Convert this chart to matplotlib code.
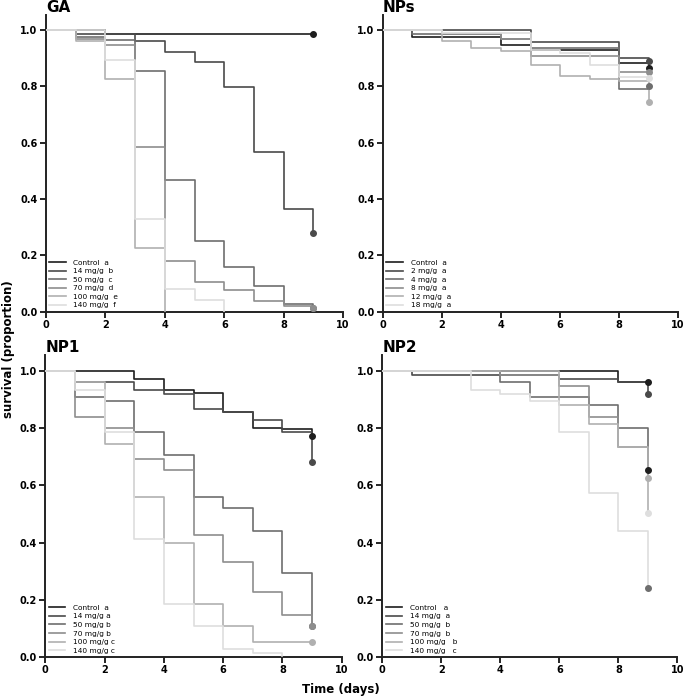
import numpy as np
import matplotlib
matplotlib.use("Agg")
import matplotlib.pyplot as plt

# survival level on each day interval [0,1), [1,2), ..., [8,9); last value = end point at day 9
days = np.arange(0, 10)
gray_shades = ["#1e1e1e", "#4a4a4a", "#6e6e6e", "#8e8e8e", "#b0b0b0", "#dedede"]

ga_labels = ["Control  a", "14 mg/g  b", "50 mg/g  c", "70 mg/g  d", "100 mg/g  e", "140 mg/g  f"]
ga_control = [1, 1, 0.986, 0.986, 0.986, 0.986, 0.986, 0.986, 0.986, 0.986]
ga_14 = [1, 0.985, 0.985, 0.962, 0.923, 0.886, 0.797, 0.569, 0.366, 0.28]
ga_50 = [1, 0.975, 0.965, 0.854, 0.467, 0.253, 0.16, 0.092, 0.026, 0.015]
ga_70 = [1, 0.97, 0.948, 0.585, 0.18, 0.104, 0.078, 0.038, 0.02, 0.015]
ga_100 = [1, 0.96, 0.826, 0.228, 0, None, None, None, None, None]
ga_140 = [1, 1, 0.895, 0.33, 0.08, 0.04, 0, None, None, None]

nps_labels = ["Control  a", "2 mg/g  a", "4 mg/g  a", "8 mg/g  a", "12 mg/g  a", "18 mg/g  a"]
nps_control = [1, 0.974, 0.974, 0.974, 0.947, 0.93, 0.93, 0.93, 0.883, 0.865]
nps_2 = [1, 1, 1, 1, 1, 0.959, 0.959, 0.959, 0.90, 0.889]
nps_4 = [1, 0.986, 0.986, 0.986, 0.97, 0.935, 0.935, 0.935, 0.79, 0.80]
nps_8 = [1, 1, 0.986, 0.986, 0.97, 0.91, 0.91, 0.91, 0.85, 0.85]
nps_12 = [1, 1, 0.96, 0.935, 0.925, 0.875, 0.838, 0.825, 0.82, 0.745]
nps_18 = [1, 1, 0.99, 0.99, 0.99, 0.93, 0.92, 0.875, 0.835, 0.83]

np1_labels = ["Control  a", "14 mg/g a", "50 mg/g b", "70 mg/g b", "100 mg/g c", "140 mg/g c"]
np1_control = [1, 1, 1, 0.973, 0.934, 0.921, 0.855, 0.80, 0.797, 0.772]
np1_14 = [1, 0.96, 0.96, 0.933, 0.92, 0.866, 0.855, 0.827, 0.787, 0.68]
np1_50 = [1, 0.907, 0.893, 0.785, 0.707, 0.56, 0.52, 0.44, 0.293, 0.107]
np1_70 = [1, 0.84, 0.80, 0.693, 0.653, 0.427, 0.333, 0.227, 0.147, 0.107]
np1_100 = [1, 0.96, 0.745, 0.56, 0.40, 0.187, 0.107, 0.053, 0.053, 0.053]
np1_140 = [1, 0.933, 0.787, 0.413, 0.187, 0.107, 0.027, 0.013, 0.005, None]

np2_labels = ["Control   a", "14 mg/g  a", "50 mg/g  b", "70 mg/g  b", "100 mg/g   b", "140 mg/g   c"]
np2_control = [1, 1, 1, 1, 1, 1, 1, 1, 0.96, 0.96]
np2_14 = [1, 0.986, 0.986, 0.986, 0.986, 0.986, 0.973, 0.973, 0.96, 0.92]
np2_50 = [1, 1, 1, 1, 0.96, 0.907, 0.907, 0.88, 0.80, 0.653]
np2_70 = [1, 1, 1, 1, 0.986, 0.986, 0.947, 0.84, 0.733, 0.627]
np2_100 = [1, 1, 1, 1, 1, 1, 0.88, 0.813, 0.733, 0.505]
np2_140 = [1, 1, 1, 0.933, 0.92, 0.893, 0.787, 0.573, 0.44, 0.24]
# end-point dot colours (index into gray_shades)
np2_dot_shades = [0, 1, 0, 4, 5, 2]

panels = [
    ("GA", ga_labels, [ga_control, ga_14, ga_50, ga_70, ga_100, ga_140], None, [0.067, 0.554, 0.434, 0.425]),
    ("NPs", nps_labels, [nps_control, nps_2, nps_4, nps_8, nps_12, nps_18], None, [0.559, 0.554, 0.431, 0.425]),
    ("NP1", np1_labels, [np1_control, np1_14, np1_50, np1_70, np1_100, np1_140], None, [0.066, 0.060, 0.433, 0.432]),
    ("NP2", np2_labels, [np2_control, np2_14, np2_50, np2_70, np2_100, np2_140], np2_dot_shades, [0.558, 0.060, 0.431, 0.432]),
]


def draw_curve(ax, values, color, dot_color, label):
    vals = [v for v in values if v is not None]
    n = len(vals)
    if n == len(values):
        # full curve: steps to day 9, then drop to end point with a dot
        x = list(days[:9]) + [9, 9]
        y = vals[:9] + [vals[8], vals[9]]
        ax.plot(x, y, drawstyle="steps-post", color=color, lw=1.2, label=label, zorder=3)
        ax.plot([9], [vals[9]], "o", color=dot_color, ms=4, zorder=4)
    else:
        x = list(days[:n])
        ax.plot(x, vals, drawstyle="steps-post", color=color, lw=1.2, label=label, zorder=3)


fig = plt.figure(figsize=(6.85, 6.99), dpi=100)
for title, labels, series, dots, pos in panels:
    ax = fig.add_axes(pos)
    if dots is None:
        dots = range(len(series))
    for vals, color, d, lab in zip(series, gray_shades, dots, labels):
        draw_curve(ax, vals, color, gray_shades[d], lab)
    ax.set_xlim(0, 10)
    ax.set_ylim(0, 1.055)
    ax.set_xticks([0, 2, 4, 6, 8, 10])
    ax.set_yticks([0, 0.2, 0.4, 0.6, 0.8, 1.0])
    ax.set_yticklabels([f"{t:.1f}" for t in ax.get_yticks()])
    for s in ["top", "right"]:
        ax.spines[s].set_visible(False)
    for s in ["left", "bottom"]:
        ax.spines[s].set_linewidth(1.4)
        ax.spines[s].set_color("#222222")
    ax.tick_params(direction="out", length=4, width=1.2, labelsize=7, pad=2)
    for t in ax.get_xticklabels() + ax.get_yticklabels():
        t.set_fontweight("bold")
    ax.text(0.0, 1.0, title, transform=ax.transAxes, ha="left", va="bottom",
            fontsize=11, fontweight="bold")
    ax.legend(loc="lower left", bbox_to_anchor=(0.0, 0.0),
              frameon=False, fontsize=5.3, handlelength=2.3, labelspacing=0.33,
              handletextpad=1.0, borderaxespad=0.25, borderpad=0.2)

fig.text(0.012, 0.5, "survival (proportion)", rotation=90, ha="center", va="center",
         fontsize=8.5, fontweight="bold")
fig.text(0.497, 0.013, "Time (days)", ha="center", va="center", fontsize=8.5, fontweight="bold")

fig.savefig("out.png", dpi=100)
